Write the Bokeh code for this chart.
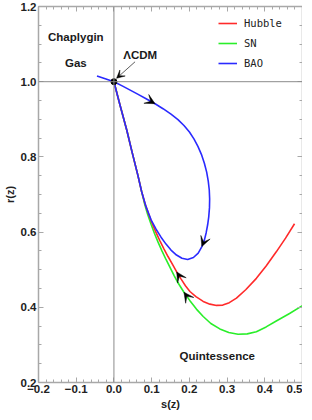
import numpy as np
from bokeh.plotting import figure
from bokeh.models import (Range1d, LinearAxis, FixedTicker, Span, Label, Arrow,
                          VeeHead, Legend, LegendItem)
from bokeh.embed import file_html
from bokeh.resources import INLINE

# ---- data ----
BAO_S = [-0.0449, -0.0230, 0.0, 0.0219, 0.0431, 0.0642, 0.0853, 0.1091, 0.1302, 0.1513,
         0.1698, 0.1857, 0.2002, 0.2121, 0.2227, 0.2319, 0.2398, 0.2459, 0.2501, 0.2528,
         0.2538, 0.2533, 0.2514, 0.2485, 0.2446, 0.2398, 0.2332, 0.2235, 0.2108, 0.1955,
         0.1804, 0.1659, 0.1513, 0.1381, 0.1249, 0.1117, 0.0985, 0.0853, 0.0734, 0.0634,
         0.0483, 0.0343, 0.0166, 0.0]
BAO_R = [1.0153, 1.0079, 1.0, 0.9889, 0.9776, 0.9662, 0.9546, 0.9414, 0.9282, 0.9137,
         0.8992, 0.8834, 0.8662, 0.8478, 0.8280, 0.8069, 0.7831, 0.7594, 0.7356, 0.7119,
         0.6881, 0.6644, 0.6406, 0.6195, 0.5984, 0.5786, 0.5615, 0.5443, 0.5325, 0.5272,
         0.5303, 0.5390, 0.5522, 0.5681, 0.5865, 0.6076, 0.6327, 0.6670, 0.7079, 0.7515,
         0.8121, 0.8702, 0.9361, 1.0]
BAO_ARROWS = [7, 26]          # arrowheads point from index-1 to index

HUB_S = [0.0, 0.0166, 0.0343, 0.0483, 0.0634, 0.0734, 0.0827, 0.0919, 0.1012, 0.1117,
         0.1223, 0.1329, 0.1434, 0.1553, 0.1664, 0.1778, 0.1896, 0.2015, 0.2174, 0.2367,
         0.2544, 0.2721, 0.2887, 0.3059, 0.3249, 0.3494, 0.3777, 0.4036, 0.4305, 0.4551,
         0.4789]
HUB_R = [1.0, 0.9361, 0.8702, 0.8121, 0.7515, 0.7079, 0.6749, 0.6485, 0.6235, 0.5984,
         0.5760, 0.5549, 0.5351, 0.5140, 0.4942, 0.4757, 0.4573, 0.4420, 0.4282, 0.4156,
         0.4084, 0.4050, 0.4058, 0.4124, 0.4243, 0.4467, 0.4770, 0.5100, 0.5475, 0.5839,
         0.6222]
HUB_ARROWS = [14]             # arrowheads point from index+1 to index

SN_S = [0.0, 0.0166, 0.0343, 0.0483, 0.0634, 0.0734, 0.0814, 0.0893, 0.0985, 0.1078,
        0.1170, 0.1276, 0.1381, 0.1487, 0.1593, 0.1698, 0.1857, 0.2015, 0.2187, 0.2367,
        0.2570, 0.2808, 0.3045, 0.3291, 0.3534, 0.3777, 0.4036, 0.4305, 0.4657, 0.5008]
SN_R = [1.0, 0.9361, 0.8702, 0.8121, 0.7515, 0.7079, 0.6749, 0.6472, 0.6208, 0.5958,
        0.5733, 0.5496, 0.5272, 0.5061, 0.4850, 0.4652, 0.4401, 0.4177, 0.3952, 0.3755,
        0.3570, 0.3425, 0.3332, 0.3285, 0.3293, 0.3351, 0.3478, 0.3636, 0.3834, 0.4050]
SN_ARROWS = [16]

LCDM_S = [0.0]
LCDM_R = [1.0]

X_TICKS = [-0.2, -0.1, 0.0, 0.1, 0.2, 0.3, 0.4, 0.5]
X_TICK_LABELS = ["\u22120.2", "\u22120.1", "0.0", "0.1", "0.2", "0.3", "0.4", "0.5"]
Y_TICKS = [0.2, 0.4, 0.6, 0.8, 1.0, 1.2]
Y_TICK_LABELS = ["0.2", "0.4", "0.6", "0.8", "1.0", "1.2"]
X_MINOR = [round(v, 3) for v in np.arange(-0.2, 0.5001, 0.02)]
Y_MINOR = [round(v, 3) for v in np.arange(0.2, 1.2001, 0.05)]

SERIES = ["Hubble", "SN", "BAO"]
COLORS = {"Hubble": "#ff2a2a", "SN": "#2aee2a", "BAO": "#2a2aff"}

# annotation placement
CHAP_POS = (-0.101, 1.118, 1.050)
LCDM_TXT = (0.0695, 1.071)
LCDM_ARROW = (0.056, 1.053, 0.007, 1.009)
QUINT_POS = (0.274, 0.270)

FONT = "Liberation Sans"
AX_COL = "#a8a8a8"

p = figure(width=302, height=412, x_range=Range1d(-0.2, 0.5), y_range=Range1d(0.2, 1.2),
           output_backend="svg", toolbar_location=None,
           min_border_left=28, min_border_right=0, min_border_top=6, min_border_bottom=20,
           x_axis_label="s(z)", y_axis_label="r(z)")
p.xgrid.visible = False
p.ygrid.visible = False
p.outline_line_color = None
p.background_fill_color = "white"
p.border_fill_color = "white"


def style_axis(ax, ticks, minor, labels, show):
    ax.ticker = FixedTicker(ticks=ticks, minor_ticks=minor)
    if show:
        ax.major_label_overrides = {t: l for t, l in zip(ticks, labels)}
    else:
        ax.major_label_overrides = {t: "" for t in ticks}
    ax.axis_line_color = AX_COL
    ax.axis_line_width = 1.5
    ax.major_tick_line_color = AX_COL
    ax.minor_tick_line_color = AX_COL
    ax.major_tick_in = 5
    ax.major_tick_out = 0
    ax.minor_tick_in = 3
    ax.minor_tick_out = 0
    ax.major_label_text_font = FONT
    ax.major_label_text_font_style = "bold"
    ax.major_label_text_font_size = "11.5px"
    ax.major_label_text_color = "#222222"
    ax.major_label_standoff = 2
    ax.axis_label_text_font = FONT
    ax.axis_label_text_font_style = "bold"
    ax.axis_label_text_font_size = "11px"
    ax.axis_label_text_color = "#222222"
    ax.axis_label_standoff = 2


style_axis(p.xaxis[0], X_TICKS, X_MINOR, X_TICK_LABELS, True)
style_axis(p.yaxis[0], Y_TICKS, Y_MINOR, Y_TICK_LABELS, True)
p.yaxis[0].axis_label_standoff = 2
p.yaxis[0].major_label_standoff = 2

top = LinearAxis()
style_axis(top, X_TICKS, X_MINOR, X_TICK_LABELS, False)
top.major_label_standoff = 0
top.axis_label_standoff = 0
p.add_layout(top, "above")
right = LinearAxis()
style_axis(right, Y_TICKS, Y_MINOR, Y_TICK_LABELS, False)
right.major_label_standoff = 0
right.axis_label_standoff = 0
p.add_layout(right, "right")

# zero lines
p.add_layout(Span(location=0.0, dimension="height", line_color="#8c8c8c", line_width=1))
p.add_layout(Span(location=1.0, dimension="width", line_color="#8c8c8c", line_width=1))

r_sn = p.line(SN_S, SN_R, line_color=COLORS["SN"], line_width=1.6)
r_hub = p.line(HUB_S, HUB_R, line_color=COLORS["Hubble"], line_width=1.6)
r_bao = p.line(BAO_S, BAO_R, line_color=COLORS["BAO"], line_width=1.6)

p.scatter(LCDM_S, LCDM_R, size=6, color="black")


def head():
    return VeeHead(size=10, fill_color="black", line_color="black", line_width=0.5)


for i in BAO_ARROWS:
    p.add_layout(Arrow(end=head(), x_start=BAO_S[i - 1], y_start=BAO_R[i - 1],
                       x_end=BAO_S[i], y_end=BAO_R[i], line_alpha=0))
for i in HUB_ARROWS:
    p.add_layout(Arrow(end=head(), x_start=HUB_S[i + 1], y_start=HUB_R[i + 1],
                       x_end=HUB_S[i], y_end=HUB_R[i], line_alpha=0))
for i in SN_ARROWS:
    p.add_layout(Arrow(end=head(), x_start=SN_S[i + 1], y_start=SN_R[i + 1],
                       x_end=SN_S[i], y_end=SN_R[i], line_alpha=0))

# LCDM pointer
p.add_layout(Arrow(end=VeeHead(size=8, fill_color="black", line_color="black", line_width=0.5),
                   x_start=LCDM_ARROW[0], y_start=LCDM_ARROW[1],
                   x_end=LCDM_ARROW[2], y_end=LCDM_ARROW[3],
                   line_color="#333333", line_width=0.8))


def lab(x, y, t):
    p.add_layout(Label(x=x, y=y, text=t, text_align="center", text_baseline="middle",
                       text_font=FONT, text_font_style="bold", text_font_size="11.5px",
                       text_color="#1a1a1a"))


lab(CHAP_POS[0], CHAP_POS[1], "Chaplygin")
lab(CHAP_POS[0], CHAP_POS[2], "Gas")
lab(LCDM_TXT[0], LCDM_TXT[1], "\u039bCDM")
lab(QUINT_POS[0], QUINT_POS[1], "Quintessence")

legend = Legend(items=[LegendItem(label=SERIES[0], renderers=[r_hub]),
                       LegendItem(label=SERIES[1], renderers=[r_sn]),
                       LegendItem(label=SERIES[2], renderers=[r_bao])],
                location=(180, 309), orientation="vertical")
legend.border_line_color = None
legend.background_fill_alpha = 0
legend.padding = 0
legend.margin = 0
legend.spacing = 0
legend.glyph_width = 19
legend.glyph_height = 20
legend.label_height = 20
legend.label_standoff = 7
legend.label_text_font = "DejaVu Sans Mono"
legend.label_text_font_size = "10.5px"
legend.label_text_color = "#222222"
p.add_layout(legend, "center")

open("out.html", "w").write(file_html(p, INLINE))
